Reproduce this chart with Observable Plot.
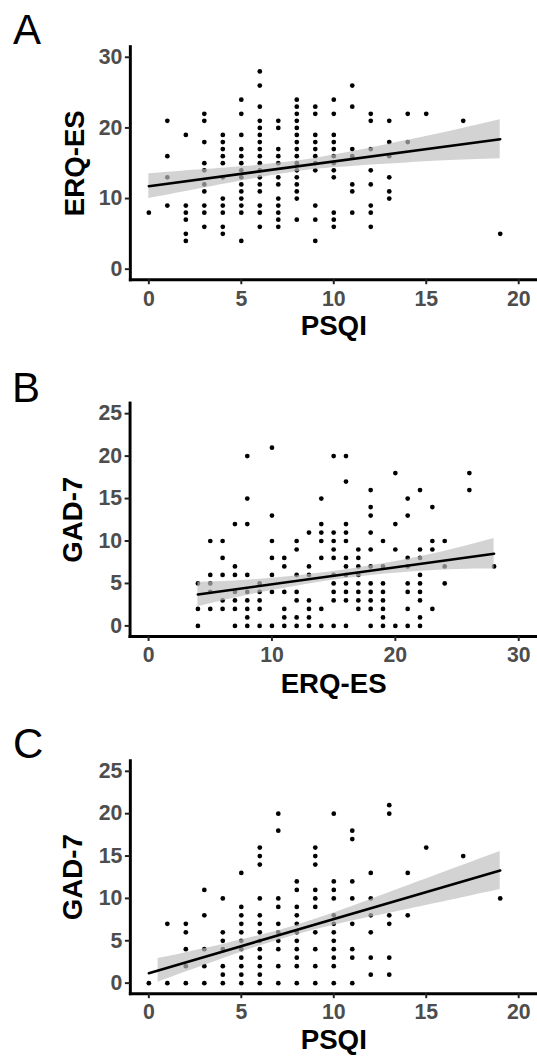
<!DOCTYPE html>
<html>
<head>
<meta charset="utf-8">
<script src="https://cdn.jsdelivr.net/npm/d3@7"></script>
<script src="https://cdn.jsdelivr.net/npm/@observablehq/plot@0.6"></script>
<style>
  html, body { margin: 0; padding: 0; background: #fff; overflow: hidden; }
  #wrap { position: relative; width: 537px; height: 1058px; overflow: hidden; background: #fff; }
  .panel { position: absolute; left: 0; }
  .letter { position: absolute; font-family: "Liberation Sans", Arial, sans-serif; font-size: 42px; line-height: 1; color: #000; font-weight: normal; }
  svg text { font-family: "Liberation Sans", Arial, sans-serif; }
  g[aria-label$="tick label"] { fill: #4d4d4d; font-weight: bold; font-size: 21.5px; }
  g[aria-label$="axis label"] { fill: #000; font-weight: bold; font-size: 28px; }
  g[aria-label$="axis tick"] { stroke: #222; }
</style>
</head>
<body>
<div id="wrap"></div>
<script>
// ---------- Panel A: PSQI (x) vs ERQ-ES (y) ----------
const psqiA = [0,1,2,3,4,5,6,7,8,9,10,11,12,13,14,15,17,19];
const erqA = [
  [8],
  [21,16,13,9],
  [19,9,8,7,5,4],
  [22,21,18,15,14,12,11,9,8,6],
  [19,18,17,16,15,13,10,9,8,6,5],
  [24,22,19,17,16,15,14,13,12,11,10,9,8,4],
  [28,26,23,21,20,19,18,17,16,15,14,13,12,11,9,8,6],
  [21,20,17,16,15,13,12,10,9,8,7,6],
  [24,23,22,21,20,19,18,17,16,15,14,13,12,11,10,7],
  [23,22,19,18,17,16,15,14,9,7,4],
  [24,22,19,18,17,16,15,14,13,8,7,6],
  [26,23,17,16,12,11,8],
  [22,21,17,14,12,9,8,6],
  [21,18,16,13,11,10],
  [22,18],
  [22],
  [21],
  [5]
];
const fitLineAx = [0, 19];
const fitLineAy = [11.75, 18.4];
const bandAx  = [0, 3, 5, 8, 10, 12, 14, 16, 19];
const bandAlo = [10.0, 11.5, 12.5, 13.8, 14.35, 14.75, 15.05, 15.35, 15.65];
const bandAhi = [13.5, 14.1, 14.5, 15.3, 16.15, 17.15, 18.25, 19.35, 21.15];

// ---------- Panel B: ERQ-ES (x) vs GAD-7 (y) ----------
const erqB = [4,5,6,7,8,9,10,11,12,13,14,15,16,17,18,19,20,21,22,23,24,26,28];
const gadB = [
  [5,2,0],
  [10,6,5,4,2],
  [10,8,6,3,2],
  [12,7,6,4,3,2,0],
  [20,15,12,6,4,3,2,1,0],
  [5,4,3,2,0],
  [21,13,10,8,6,4,0],
  [8,7,4,2,1,0],
  [10,9,6,4,3,1,0],
  [11,7,6,3,2,1,0],
  [15,12,11,10,8,2,0],
  [20,11,10,9,8,6,5,4,3,0],
  [20,17,12,11,10,8,7,6,5,4,3,0],
  [9,8,7,6,5,4,3,2],
  [16,14,13,11,9,7,5,4,3,2,0],
  [10,7,5,4,3,2,1,0],
  [18,12,9,0],
  [15,13,8,7,5,4,2,0],
  [16,9,8,6,5,4,3,1,0],
  [14,10,9,2],
  [10,7,5],
  [18,16],
  [7]
];
const fitLineBx = [4, 28];
const fitLineBy = [3.7, 8.5];
const bandBx  = [4, 7, 10, 13, 16, 19, 22, 25, 28];
const bandBlo = [2.25, 3.3, 4.18, 4.95, 5.58, 6.08, 6.45, 6.65, 6.7];
const bandBhi = [5.15, 5.3, 5.62, 6.05, 6.62, 7.32, 8.15, 9.15, 10.3];

// ---------- Panel C: PSQI (x) vs GAD-7 (y) ----------
const psqiC = [0,1,2,3,4,5,6,7,8,9,10,11,12,13,14,15,17,19];
const gadC = [
  [0],
  [7,0],
  [7,6,4,2,0],
  [11,8,4,2,0],
  [10,6,5,4,2,1,0],
  [13,9,8,7,6,5,4,3,2,1,0],
  [16,15,14,10,8,7,6,5,4,3,2,1,0],
  [20,18,10,9,7,6,5,4,2,0],
  [12,11,9,8,7,6,5,4,3,2,0],
  [16,15,14,11,10,9,6,4,2,0],
  [20,12,11,10,8,7,6,5,4,3,2,0],
  [18,17,12,10,7,4,3,0],
  [13,10,8,6,3,1],
  [21,20,8,7,3,1],
  [13,8],
  [16],
  [15],
  [10]
];
const fitLineCx = [0, 19];
const fitLineCy = [1.17, 13.3];
const bandCx  = [0.5, 2, 4, 6, 8, 10, 12, 14, 16, 19];
const bandClo = [0.1, 1.3, 2.87, 4.38, 5.7, 6.83, 7.8, 8.7, 9.63, 11.05];
const bandChi = [2.9, 3.6, 4.57, 5.62, 6.84, 8.27, 9.86, 11.5, 13.13, 15.55];

// ---------- axis ticks / labels ----------
const ticksPSQI = [0, 5, 10, 15, 20];
const ticksERQ30 = [0, 10, 20, 30];
const ticksERQx = [0, 10, 20, 30];
const ticksGAD = [0, 5, 10, 15, 20, 25];
const panelLetters = ["A", "B", "C"];

// ---------- build tables ----------
const toPoints = (xs, ys) => xs.flatMap((x, i) => ys[i].map(y => ({x, y})));
const toLine = (xs, ys) => xs.map((x, i) => ({x, y: ys[i]}));
const toBand = (xs, lo, hi) => xs.map((x, i) => ({x, lo: lo[i], hi: hi[i]}));

const FONT = '"Liberation Sans", Arial, sans-serif';

function panel(cfg) {
  return Plot.plot({
    width: cfg.width, height: cfg.height,
    marginTop: cfg.mt, marginBottom: cfg.mb, marginLeft: cfg.ml, marginRight: cfg.mr,
    style: {fontFamily: FONT, background: "white", overflow: "visible"},
    x: {domain: cfg.xDomain},
    y: {domain: cfg.yDomain},
    marks: [
      Plot.dot(cfg.pts, {x: "x", y: "y", r: 2.4, fill: "black", stroke: null}),
      Plot.areaY(cfg.band, {x: "x", y1: "lo", y2: "hi", fill: "#bebebe", fillOpacity: 0.68, curve: "natural"}),
      Plot.line(cfg.line, {x: "x", y: "y", stroke: "black", strokeWidth: 2.6}),
      Plot.frame({anchor: "left", stroke: "black", strokeWidth: 3}),
      Plot.frame({anchor: "bottom", stroke: "black", strokeWidth: 3}),
      Plot.axisX({ticks: cfg.xTicks, tickSize: 5, tickPadding: cfg.xTickPadding, strokeWidth: 2, fontSize: 21.5,
                  label: cfg.xLabel, labelAnchor: "center", labelOffset: cfg.xLabelOffset, labelArrow: "none"}),
      Plot.axisY({ticks: cfg.yTicks, tickSize: 5, tickPadding: 3, strokeWidth: 2, fontSize: 21.5,
                  label: cfg.yLabel, labelAnchor: "center", labelOffset: cfg.yLabelOffset, labelArrow: "none"})
    ]
  });
}

const wrap = document.getElementById("wrap");
const panels = [
  {top: 0, width: 543, height: 350, mt: 46.7, mb: 67.6, ml: 131.3, mr: 0.3,
   xDomain: [-1, 21], yDomain: [-1.5, 31.5], xTicks: ticksPSQI, yTicks: ticksERQ30,
   xLabel: "PSQI", yLabel: "ERQ-ES", xLabelOffset: 56, yLabelOffset: 67, xTickPadding: 6,
   pts: toPoints(psqiA, erqA), line: toLine(fitLineAx, fitLineAy), band: toBand(bandAx, bandAlo, bandAhi),
   letterTop: 9.4, letterLeft: 13},
  {top: 350, width: 544, height: 360, mt: 53.25, mb: 70.25, ml: 131.25, mr: 0.25,
   xDomain: [-1.5, 31.5], yDomain: [-1.25, 26.25], xTicks: ticksERQx, yTicks: ticksGAD,
   xLabel: "ERQ-ES", yLabel: "GAD-7", xLabelOffset: 57, yLabelOffset: 68.5, xTickPadding: 6,
   pts: toPoints(erqB, gadB), line: toLine(fitLineBx, fitLineBy), band: toBand(bandBx, bandBlo, bandBhi),
   letterTop: 367.4, letterLeft: 12},
  {top: 710, width: 543, height: 348, mt: 50.8, mb: 61.6, ml: 131.3, mr: 0.3,
   xDomain: [-1, 21], yDomain: [-1.25, 26.25], xTicks: ticksPSQI, yTicks: ticksGAD,
   xLabel: "PSQI", yLabel: "GAD-7", xLabelOffset: 56, yLabelOffset: 68.5, xTickPadding: 5,
   pts: toPoints(psqiC, gadC), line: toLine(fitLineCx, fitLineCy), band: toBand(bandCx, bandClo, bandChi),
   letterTop: 723.4, letterLeft: 13}
];

panels.forEach((cfg, i) => {
  const holder = document.createElement("div");
  holder.className = "panel";
  holder.style.top = cfg.top + "px";
  holder.appendChild(panel(cfg));
  wrap.appendChild(holder);
  const letter = document.createElement("div");
  letter.className = "letter";
  letter.textContent = panelLetters[i];
  letter.style.top = cfg.letterTop + "px";
  letter.style.left = cfg.letterLeft + "px";
  wrap.appendChild(letter);
});
</script>
</body>
</html>
